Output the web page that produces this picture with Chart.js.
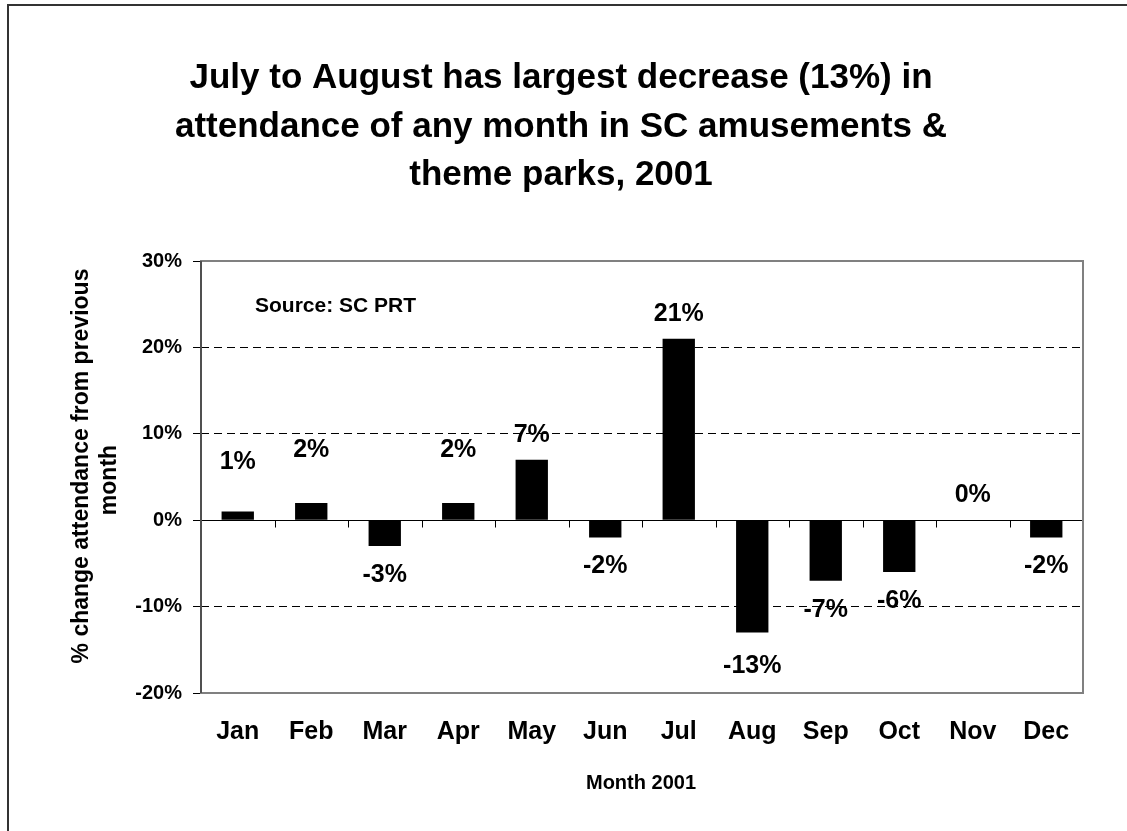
<!DOCTYPE html>
<html>
<head>
<meta charset="utf-8">
<script src="https://cdn.jsdelivr.net/npm/chart.js@4"></script>
<style>
  html, body { margin: 0; padding: 0; background: #fff; }
  #chart { display: block; }
</style>
</head>
<body>
<canvas id="chart" width="1127" height="831"></canvas>
<script>
// data
const months = ['Jan', 'Feb', 'Mar', 'Apr', 'May', 'Jun', 'Jul', 'Aug', 'Sep', 'Oct', 'Nov', 'Dec'];
const changePct = [1, 2, -3, 2, 7, -2, 21, -13, -7, -6, 0, -2];
const yTicks = [-20, -10, 0, 10, 20, 30];
const titleLines = [
    'July to August has largest decrease (13%) in',
    'attendance of any month in SC amusements &',
    'theme parks, 2001'
];
const yTitleLines = ['% change attendance from previous', 'month'];
const xTitle = 'Month 2001';
const sourceNote = 'Source: SC PRT';

// some labels were moved by hand in the original (px, away from the bar end)
const labelNudge = [25, 28, 0, 28, 0, 0, 0, 4, 0, 0, 0, 0];

const FONT = '"Liberation Sans", Arial, sans-serif';
Chart.defaults.font.family = FONT;
Chart.defaults.color = '#000';

const decor = {
    id: 'decor',
    beforeDraw(chart) {
        const ctx = chart.ctx;
        ctx.save();
        // outer chart border (only left and top visible)
        ctx.strokeStyle = '#333';
        ctx.lineWidth = 2;
        ctx.beginPath();
        ctx.moveTo(8, 831); ctx.lineTo(8, 5); ctx.lineTo(1127, 5);
        ctx.stroke();

        ctx.fillStyle = '#000';
        ctx.textAlign = 'center';
        ctx.textBaseline = 'alphabetic';
        ctx.font = `bold 35px ${FONT}`;
        titleLines.forEach((t, i) => ctx.fillText(t, 561, 88 + i * 48.5));

        // axis titles
        ctx.font = `bold 20px ${FONT}`;
        ctx.fillText(xTitle, 641, 789);

        ctx.font = `bold 23px ${FONT}`;
        ctx.textBaseline = 'middle';
        [[82, 466], [110, 480]].forEach(([x, y], i) => {
            ctx.save();
            ctx.translate(x, y);
            ctx.rotate(-Math.PI / 2);
            ctx.fillText(yTitleLines[i], 0, 0);
            ctx.restore();
        });

        ctx.font = `bold 21px ${FONT}`;
        ctx.textAlign = 'left';
        ctx.textBaseline = 'alphabetic';
        ctx.fillText(sourceNote, 255, 312);
        ctx.restore();
    },
    afterDatasetsDraw(chart) {
        const ctx = chart.ctx;
        const a = chart.chartArea;
        const xs = chart.scales.x;
        const ys = chart.scales.y;
        ctx.save();

        // zero line with category tick marks hanging below
        const y0 = Math.round(ys.getPixelForValue(0)) + 0.5;
        ctx.strokeStyle = '#000';
        ctx.lineWidth = 1;
        ctx.beginPath();
        ctx.moveTo(a.left, y0); ctx.lineTo(a.right, y0);
        const w = (xs.right - xs.left) / months.length;
        for (let k = 0; k <= months.length; k++) {
            const x = Math.round(xs.left + k * w) + 0.5;
            ctx.moveTo(x, y0); ctx.lineTo(x, y0 + 7);
        }
        ctx.stroke();

        // plot frame
        ctx.strokeStyle = '#808080';
        ctx.lineWidth = 2;
        ctx.strokeRect(a.left, a.top, a.right - a.left, a.bottom - a.top);
        ctx.strokeStyle = '#505050';
        ctx.beginPath();
        ctx.moveTo(a.left, a.top); ctx.lineTo(a.left, a.bottom);
        ctx.stroke();

        // value labels
        ctx.fillStyle = '#000';
        ctx.font = `bold 25px ${FONT}`;
        ctx.textAlign = 'center';
        ctx.textBaseline = 'alphabetic';
        const meta = chart.getDatasetMeta(0);
        meta.data.forEach((el, i) => {
            const v = changePct[i];
            const txt = v + '%';
            if (v >= 0) {
                ctx.fillText(txt, el.x, el.y - 18 - labelNudge[i]);
            } else {
                ctx.fillText(txt, el.x, el.y + 18 + 18 + labelNudge[i]);
            }
        });
        ctx.restore();
    }
};

new Chart(document.getElementById('chart'), {
    type: 'bar',
    data: {
        labels: months,
        datasets: [{
            data: changePct,
            backgroundColor: '#000',
            borderWidth: 0,
            categoryPercentage: 1,
            barPercentage: 0.44
        }]
    },
    options: {
        responsive: false,
        animation: false,
        layout: { padding: { top: 261, right: 44, bottom: 0, left: 0 } },
        plugins: {
            legend: { display: false },
            tooltip: { enabled: false },
            title: { display: false }
        },
        scales: {
            x: {
                grid: { display: false, drawTicks: false },
                border: { display: false },
                ticks: {
                    padding: 24,
                    color: '#000',
                    font: { size: 25, weight: 'bold' },
                    maxRotation: 0
                },
                afterFit: s => { s.height = 138; }
            },
            y: {
                min: yTicks[0],
                max: yTicks[yTicks.length - 1],
                afterBuildTicks: s => { s.ticks = yTicks.map(v => ({ value: v })); },
                grid: {
                    color: c => (c.tick && [10, 20, -10].includes(c.tick.value)) ? '#000' : 'rgba(0,0,0,0)',
                    lineWidth: 1,
                    drawTicks: true,
                    tickLength: 8,
                    tickColor: '#000',
                    tickWidth: 1,
                    tickBorderDash: []
                },
                border: { display: false, dash: [8, 5] },
                ticks: {
                    padding: 11,
                    color: '#000',
                    font: { size: 20, weight: 'bold' },
                    callback: v => v + '%'
                },
                afterFit: s => { s.width = 201; }
            }
        }
    },
    plugins: [decor]
});
</script>
</body>
</html>
